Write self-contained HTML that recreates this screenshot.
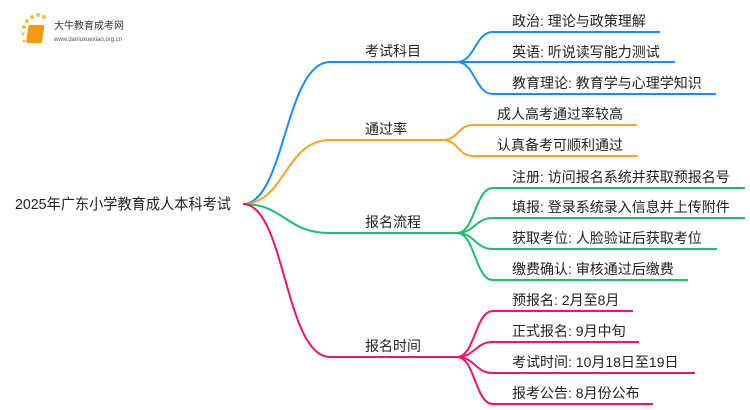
<!DOCTYPE html>
<html><head><meta charset="utf-8"><style>
html,body{margin:0;padding:0;background:#fff;width:750px;height:410px;overflow:hidden}
svg text{font-family:"Liberation Sans","Noto Sans CJK SC",sans-serif;fill:#222}
</style></head><body>
<svg width="750" height="410" xmlns="http://www.w3.org/2000/svg">
<g>
<circle cx="24" cy="27" r="2" fill="#f7c23a"/><circle cx="27" cy="21" r="2" fill="#f7c23a"/><circle cx="32" cy="17" r="2" fill="#f7c23a"/><circle cx="38" cy="15" r="2" fill="#f7c23a"/><circle cx="44" cy="17" r="2" fill="#f7c23a"/><circle cx="23" cy="34" r="1.5" fill="#f7c23a"/><circle cx="24" cy="41" r="1.5" fill="#f7c23a"/>
<rect x="32" y="25" width="16" height="18" rx="2" fill="#f29a12" transform="skewX(-8)"/>
<text x="54" y="29" font-size="10" style="fill:#333">大牛教育成考网</text>
<text x="54" y="41" font-size="6" style="fill:#555">www.daniuxuexiao.org.cn</text>
</g>
<text x="15" y="209" font-size="15" textLength="216" lengthAdjust="spacingAndGlyphs">2025年广东小学教育成人本科考试</text>
<g fill="none" stroke-width="2">
<g stroke="#1a8cff">
<path d="M243,204 C285,204 285,62 330,62 L457,62"/>
<path d="M457,62 C475,62 475,32 493,32 L660,32"/>
<path d="M457,62 L675,62"/>
<path d="M457,62 C475,62 475,94 493,94 L716,94"/>
</g>
<g stroke="#f5a623">
<path d="M243,204 C285,204 285,140 330,140 L443,140"/>
<path d="M443,140 C458,140 458,125 473,125 L637,125"/>
<path d="M443,140 C458,140 458,156 473,156 L638,156"/>
</g>
<g stroke="#1dbf6e">
<path d="M243,204 C285,204 285,233 330,233 L457,233"/>
<path d="M457,233 C475,233 475,188 493,188 L745,188"/>
<path d="M457,233 C475,233 475,218 493,218 L745,218"/>
<path d="M457,233 C475,233 475,249 493,249 L717,249"/>
<path d="M457,233 C475,233 475,280 493,280 L688,280"/>
</g>
<g stroke="#f0146a">
<path d="M243,204 C285,204 285,357 330,357 L457,357"/>
<path d="M457,357 C475,357 475,311 493,311 L633,311"/>
<path d="M457,357 C475,357 475,342 493,342 L639,342"/>
<path d="M457,357 C475,357 475,373 493,373 L695,373"/>
<path d="M457,357 C475,357 475,404 493,404 L653,404"/>
</g>
</g>
<g font-size="14">
<text x="365" y="56">考试科目</text>
<text x="365" y="134">通过率</text>
<text x="365" y="227">报名流程</text>
<text x="365" y="351">报名时间</text>
<text x="512" y="26">政治: 理论与政策理解</text>
<text x="512" y="57">英语: 听说读写能力测试</text>
<text x="512" y="88">教育理论: 教育学与心理学知识</text>
<text x="497" y="119">成人高考通过率较高</text>
<text x="497" y="150">认真备考可顺利通过</text>
<text x="512" y="182">注册: 访问报名系统并获取预报名号</text>
<text x="512" y="212">填报: 登录系统录入信息并上传附件</text>
<text x="512" y="243">获取考位: 人脸验证后获取考位</text>
<text x="512" y="274">缴费确认: 审核通过后缴费</text>
<text x="512" y="305">预报名: 2月至8月</text>
<text x="512" y="336">正式报名: 9月中旬</text>
<text x="512" y="367">考试时间: 10月18日至19日</text>
<text x="512" y="398">报考公告: 8月份公布</text>
</g>
</svg>
</body></html>
